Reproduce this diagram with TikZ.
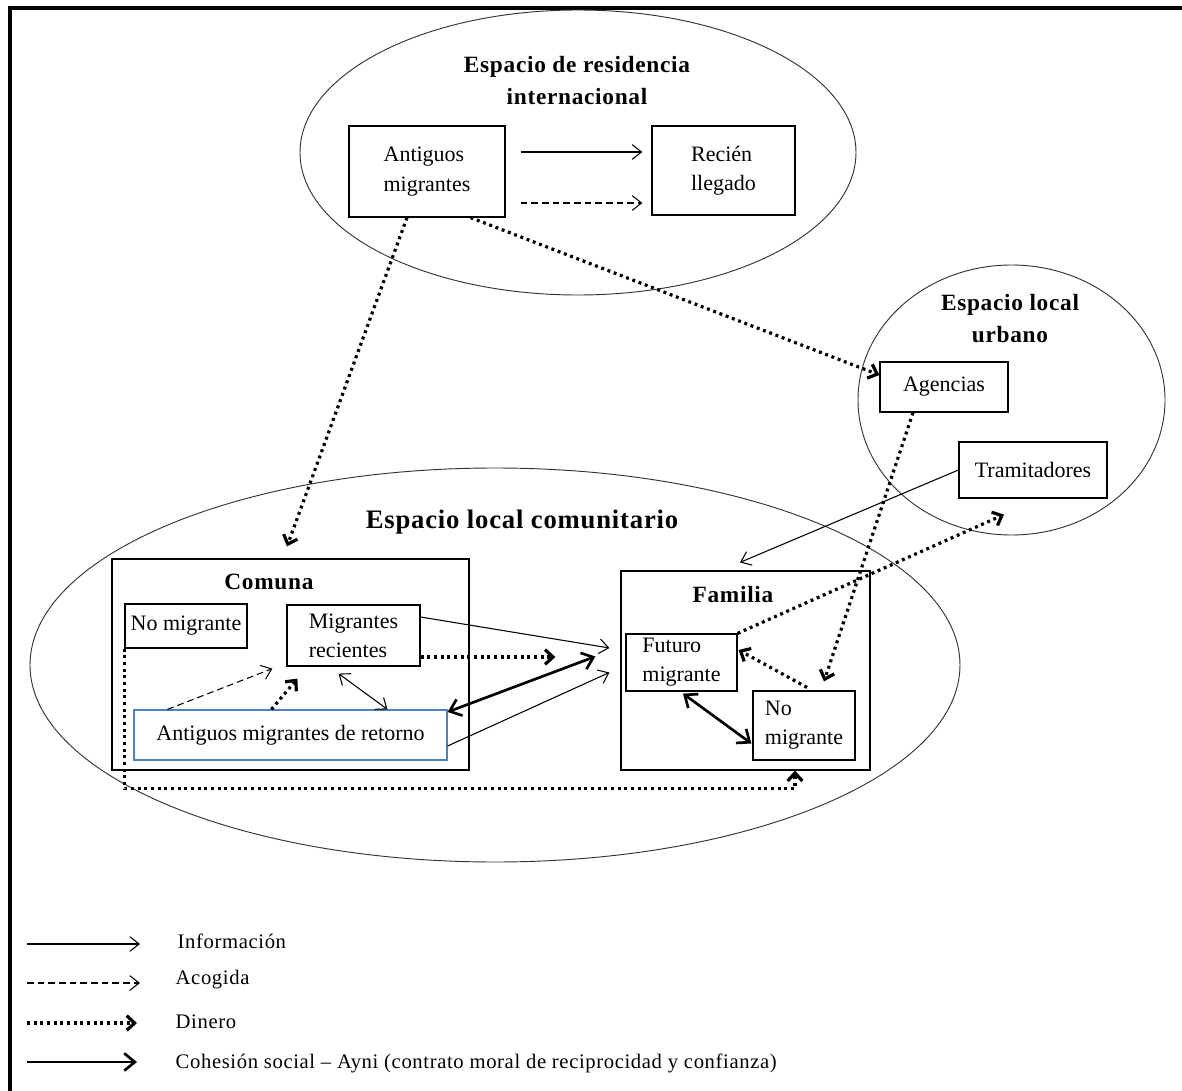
\documentclass[tikz,border=0pt]{standalone}
\usepackage{fontspec}
\setmainfont{Liberation Serif}
\usetikzlibrary{arrows.meta,shapes.geometric,calc}
\begin{document}
\begin{tikzpicture}[x=0.75pt,y=-0.75pt,
  box/.style={draw, line width=0.9pt, align=left, inner sep=2pt, font=\fontsize{16.5}{22}\selectfont},
  frame/.style={draw, line width=0.9pt, inner sep=0pt},
  ell/.style={draw, ellipse, line width=0.7pt, inner sep=0pt, draw=black!80},
  ttl/.style={font=\bfseries\fontsize{17.5}{24}\selectfont\addfontfeature{LetterSpace=3}, align=center},
  leg/.style={anchor=west, font=\fontsize{15.5}{18}\selectfont\addfontfeature{LetterSpace=3}},
  info/.style={line width=0.8pt, -{Straight Barb[length=7pt,width=11pt]}},
  infob/.style={line width=0.8pt, {Straight Barb[length=7pt,width=11pt]}-{Straight Barb[length=7pt,width=11pt]}},
  acog/.style={info, dash pattern=on 5pt off 3pt},
  din/.style={line width=2.4pt, dash pattern=on 2.2pt off 2.8pt, -{Straight Barb[length=6pt,width=11pt]}},
  coh/.style={line width=2pt, -{Straight Barb[length=8pt,width=13pt]}},
  cohb/.style={line width=2pt, {Straight Barb[length=8pt,width=13pt]}-{Straight Barb[length=8pt,width=13pt]}}
]
\useasboundingbox (0,0) rectangle (1182,1091);
\draw[line width=3pt] (9.5,1095) -- (9.5,8.5) -- (1190,8.5);

% ellipses
\node[ell, minimum width=417pt, minimum height=213.75pt] (eint) at (578,152.5) {};
\node[ell, minimum width=230.25pt, minimum height=202.5pt] (eurb) at (1011.5,400) {};
\node[ell, minimum width=697.5pt, minimum height=295.5pt] (ecom) at (495,665) {};

% titles
\node[ttl] (t1) at (577,81) {Espacio de residencia\\internacional};
\node[ttl] (t2) at (1010,319) {Espacio local\\urbano};
\node[ttl, font=\bfseries\fontsize{20}{24}\selectfont\addfontfeature{LetterSpace=3}] (t3) at (522,522) {Espacio local comunitario};

% container boxes
\node[frame, minimum width=267.75pt, minimum height=158.25pt] (com) at (290.5,664.5) {};
\node[frame, minimum width=186.75pt, minimum height=149.25pt] (fam) at (745.5,670.5) {};
\node[ttl] (t4) at (269,582) {Comuna};
\node[ttl] (t5) at (733,595) {Familia};

% boxes
\node[box, minimum width=117pt, minimum height=68.25pt] (am) at (427,171.5) {Antiguos\\migrantes};
\node[box, minimum width=107.25pt, minimum height=66.75pt] (rl) at (723.5,170.5) {Recién\\llegado};
\node[box, minimum width=96pt, minimum height=37.5pt] (ag) at (944,387) {Agencias};
\node[box, minimum width=111pt, minimum height=42pt] (tr) at (1033,470) {Tramitadores};
\node[box, minimum width=91.5pt, minimum height=33pt] (nm1) at (186,626) {No migrante};
\node[box, minimum width=99.75pt, minimum height=45.75pt] (mr) at (353.5,635.5) {Migrantes\\recientes};
\node[box, draw={rgb,255:red,79;green,129;blue,189}, minimum width=234.75pt, minimum height=37.5pt] (amr) at (290.5,735) {Antiguos migrantes de retorno};
\node[box, minimum width=83.25pt, minimum height=42.75pt] (fm) at (681.5,662.5) {Futuro\\migrante};
\node[box, minimum width=76.5pt, minimum height=51.75pt] (nm2) at (804,725.5) {No\\migrante};

% connectors
\draw[info] ($(am.east)+(15,-19.5)$) -- ($(rl.west)+(-9,-18.5)$);
\draw[acog] ($(am.east)+(15,31.5)$) -- ($(rl.west)+(-9,32.5)$);
\draw[din] ($(am.south)+(-20,0)$) -- ($(com.north)+(-3.5,-12)$);
\draw[din] ($(am.south east)+(-35,0)$) -- ($(ag.west)+(0,-12)$);
\draw[din] ($(ag.south)+(-31,0)$) -- ($(nm2.north)+(20,-9)$);
\draw[din] (fm.north east) -- ($(tr.south)+(-29,16)$);
\draw[info] (tr.west) -- ($(fam.north)+(-5.5,-8)$);
\draw[info] ($(mr.east)+(0,-18.5)$) -- ($(fm.west)+(-16,-14.5)$);
\draw[din] ($(mr.east)+(0,21.5)$) -- ($(fm.west)+(-70,-5.5)$);
\draw[cohb] ($(amr.east)+(0,-23)$) -- ($(fm.west)+(-30,-6)$);
\draw[info] ($(amr.east)+(0,11)$) -- ($(fm.west)+(-16,10)$);
\draw[acog] ($(amr.north west)+(34,0)$) -- ($(mr.south west)+(-14,2)$);
\draw[din] ($(amr.north west)+(138,0)$) -- ($(mr.south west)+(11,12)$);
\draw[infob] ($(mr.south)+(-15,7)$) -- ($(amr.north)+(97,0)$);
\draw[din] (nm1.south west) -- ($(nm1.south west)+(0,140)$) -| ($(fam.south)+(49.5,0)$);
\draw[cohb] ($(fm.south)+(1.5,2)$) -- ($(nm2.west)+(-1,18)$);
\draw[din] ($(nm2.north)+(3,-3)$) -- ($(fm.east)+(1,-12.5)$);

% legend
\coordinate (l1a) at (27,944); \coordinate (l1b) at (140,944);
\coordinate (l2a) at (27,983); \coordinate (l2b) at (140,983);
\coordinate (l3a) at (27,1023); \coordinate (l3b) at (137,1023);
\coordinate (l4a) at (27,1062); \coordinate (l4b) at (137,1062);
\draw[info] (l1a) -- (l1b);
\draw[acog] (l2a) -- (l2b);
\draw[din] (l3a) -- (l3b);
\draw[coh] (l4a) -- (l4b);
\node[leg] (g1) at (173,941) {Información};
\node[leg] (g2) at (171,980) {Acogida};
\node[leg] (g3) at (171,1022) {Dinero};
\node[leg] (g4) at (171,1063) {Cohesión social – Ayni (contrato moral de reciprocidad y confianza)};
\end{tikzpicture}
\end{document}
